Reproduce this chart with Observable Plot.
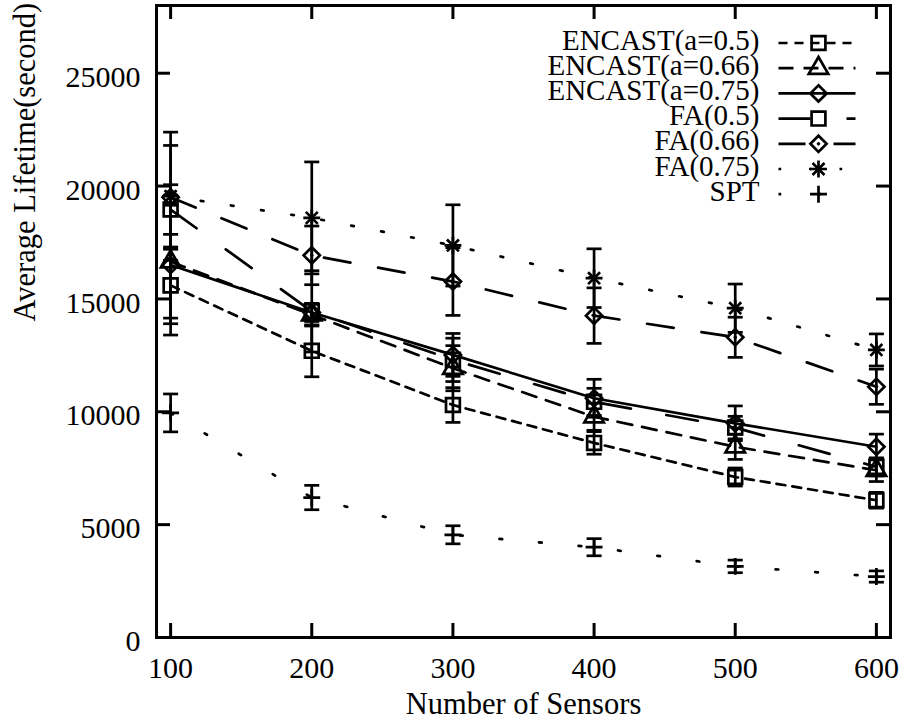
<!DOCTYPE html>
<html>
<head>
<meta charset="utf-8">
<script src="https://cdn.jsdelivr.net/npm/d3@7"></script>
<script src="https://cdn.jsdelivr.net/npm/@observablehq/plot@0.6"></script>
<style>
  html, body { margin: 0; padding: 0; background: white; }
  svg { display: block; }
  svg, svg text { font-family: "Liberation Serif", "Times New Roman", serif !important; }
</style>
</head>
<body>
<script>
// ---- data ----
const sensors = [100, 200, 300, 400, 500, 600];
const xTicks = [100, 200, 300, 400, 500, 600];
const yTicks = [0, 5000, 10000, 15000, 20000, 25000];
const seriesNames = ["ENCAST(a=0.5)", "ENCAST(a=0.66)", "ENCAST(a=0.75)", "FA(0.5)", "FA(0.66)", "FA(0.75)", "SPT"];

const encast05    = [15600, 12700, 10300, 8620, 7110, 6080];
const encast05Err = [1700, 1150, 770, 500, 400, 350];
const encast066    = [16650, 14300, 11930, 9780, 8450, 7410];
const encast066Err = [2500, 500, 1000, 600, 560, 500];
const encast075    = [16500, 14400, 12520, 10600, 9490, 8450];
const encast075Err = [3100, 400, 950, 840, 770, 560];
const fa05    = [18960, 14450, 12300, 10440, 9300, 7560];
const fa05Err = [1100, 1800, 960, 600, 500, 400];
const fa066    = [19500, 16930, 15770, 14260, 13300, 11110];
const fa066Err = [2300, 1300, 1500, 1230, 890, 780];
const fa075    = [19550, 18590, 17370, 15920, 14590, 12740];
const fa075Err = [2840, 2480, 1800, 1300, 1070, 710];
const spt    = [9950, 6200, 4550, 4000, 3150, 2700];
const sptErr = [840, 540, 400, 380, 280, 250];

const values = [encast05, encast066, encast075, fa05, fa066, fa075, spt];
const errors = [encast05Err, encast066Err, encast075Err, fa05Err, fa066Err, fa075Err, sptErr];

// ---- styles ----
const FONT = '"Liberation Serif", "Times New Roman", serif';
const SW = 2.7;
const dashes = ["9,7", "15,10", null, "32,36", "27,28", "2.7,27.8", "2.7,37"];
const symbols = [["square2"], ["triangle2"], ["diamond2"], ["square2"], ["diamond2", "dotc"], ["plus", "times"], ["plus"]];
const symR = {square2: 8.8, triangle2: 9.3, diamond2: 7.3, plus: 5.5, times: 5.5, dotc: 1.3};

const cap = {draw(ctx) { ctx.moveTo(-7.5, 0); ctx.lineTo(7.5, 0); }};
const sample = {draw(ctx) { ctx.moveTo(-40, 0); ctx.lineTo(37, 0); }};

const rowsOf = (i) => sensors.map((n, j) => ({n, v: values[i][j], e: errors[i][j]}));

const marks = [];
// frame and inward ticks (all four sides)
marks.push(Plot.frame({stroke: "black", strokeWidth: 3}));
const innerW = 905 - 156 - 15, innerH = 720 - 5 - 83, tl = 14;
marks.push(Plot.tickX(xTicks, {x: d => d, insetTop: innerH - tl, stroke: "black", strokeWidth: 3}));
marks.push(Plot.tickX(xTicks, {x: d => d, insetBottom: innerH - tl, stroke: "black", strokeWidth: 3}));
marks.push(Plot.tickY(yTicks, {y: d => d, insetRight: innerW - tl, stroke: "black", strokeWidth: 3}));
marks.push(Plot.tickY(yTicks, {y: d => d, insetLeft: innerW - tl, stroke: "black", strokeWidth: 3}));
// tick labels
marks.push(Plot.axisX({ticks: xTicks, tickFormat: d => String(d), tickSize: 0, tickPadding: 19, label: null, fontSize: 30, fontFamily: FONT}));
marks.push(Plot.axisY({ticks: yTicks, tickFormat: d => String(d), tickSize: 0, tickPadding: 16, dy: 4, label: null, fontSize: 30, fontFamily: FONT}));
// axis titles
marks.push(Plot.text(["Number of Sensors"], {frameAnchor: "bottom", dy: 76, lineAnchor: "bottom", fontSize: 30.5, fontFamily: FONT}));
marks.push(Plot.text(["Average Lifetime(second)"], {frameAnchor: "left", rotate: -90, dx: -122, lineAnchor: "bottom", fontSize: 30.5, fontFamily: FONT}));

function addSymbols(data, i, opts) {
  for (const s of symbols[i]) {
    if (s === "dotc") {
      marks.push(Plot.dot(data, {...opts, r: symR.dotc, fill: "black", stroke: "black", strokeWidth: 1}));
    } else {
      marks.push(Plot.dot(data, {...opts, symbol: s, r: symR[s], fill: "none", stroke: "black", strokeWidth: SW}));
    }
  }
}

seriesNames.forEach((name, i) => {
  const data = rowsOf(i);
  marks.push(Plot.line(data, {x: "n", y: "v", stroke: "black", strokeWidth: SW, strokeDasharray: dashes[i] ?? undefined}));
  marks.push(Plot.ruleX(data, {x: "n", y1: d => d.v - d.e, y2: d => d.v + d.e, stroke: "black", strokeWidth: SW}));
  marks.push(Plot.dot(data, {x: "n", y: d => d.v - d.e, symbol: cap, r: 5, fill: "none", stroke: "black", strokeWidth: SW}));
  marks.push(Plot.dot(data, {x: "n", y: d => d.v + d.e, symbol: cap, r: 5, fill: "none", stroke: "black", strokeWidth: SW}));
  addSymbols(data, i, {x: "n", y: "v"});

  // legend entry
  const base = 44 + 25.2 * i;
  marks.push(Plot.text([name], {frameAnchor: "top-right", dx: -131, dy: base, textAnchor: "end", lineAnchor: "bottom", fontSize: 29, fontFamily: FONT}));
  marks.push(Plot.dot([name], {frameAnchor: "top-right", dx: -72, dy: base - 6.5, symbol: sample, r: 5, fill: "none", stroke: "black", strokeWidth: SW, strokeDasharray: dashes[i] ?? undefined}));
  addSymbols([name], i, {frameAnchor: "top-right", dx: -72, dy: base - 6.5});
});

const chart = Plot.plot({
  width: 905,
  height: 720,
  marginTop: 5,
  marginRight: 15,
  marginBottom: 83,
  marginLeft: 156,
  x: {domain: [90, 610]},
  y: {domain: [0, 28000]},
  style: {fontFamily: FONT, fontSize: "30px", background: "white", color: "black"},
  marks
});
document.body.appendChild(chart);
</script>
</body>
</html>
